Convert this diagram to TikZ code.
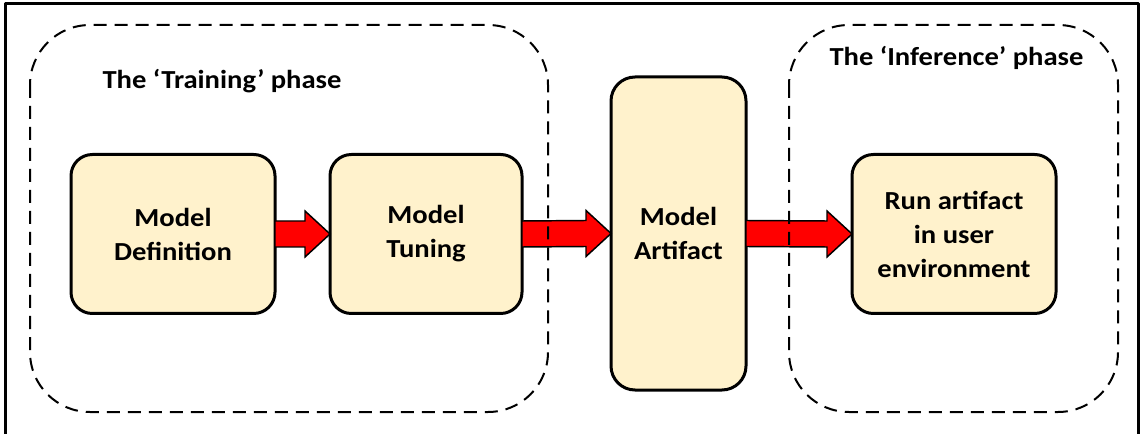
\documentclass[tikz,border=0pt]{standalone}
\usepackage{fontspec}
\setmainfont{Carlito}[FakeStretch=1.1]
\usetikzlibrary{calc}
\definecolor{boxfill}{HTML}{FFF2CC}
\begin{document}
\begin{tikzpicture}[line join=round, line cap=round, x=0.75pt, y=-0.75pt, font=\fontsize{19.5}{25.5}\selectfont\bfseries]
            \tikzset{stage/.style={draw, line width=2.25pt, fill=boxfill, rounded corners=16pt, align=center, outer sep=0pt, inner sep=0pt},
                     phase/.style={dash pattern=on 9.75pt off 6pt, line width=1.5pt, rounded corners=45pt, line cap=butt},
                     bigarrow/.style={draw, fill=red, line width=1.1pt, line join=miter}}
            \useasboundingbox (0,0) rectangle (1141,434);
            \draw[line width=2.25pt, line cap=butt] (5.5,434) -- (5.5,4) -- (1138.5,4) -- (1138.5,434);
            \node[stage, minimum width=153pt, minimum height=119.25pt] (def) at (173,234) {Model\\Definition};
            \node[stage, minimum width=144pt, minimum height=119.25pt] (tune) at (426,234) {Model\\Tuning};
            \node[stage, minimum width=101.25pt, minimum height=234.75pt, rounded corners=18pt] (art) at (678.5,233.5) {Model\\Artifact};
            \node[stage, minimum width=153pt, minimum height=119.25pt] (run) at (954,234) {Run artifact\\in user\\environment};
            \foreach \a/\b in {def/tune,tune/art,art/run}
                \draw[bigarrow] ($(\a.east)+(0,-13)$) -- ($(\b.west)+(-25,-13)$) -- ($(\b.west)+(-25,-23)$) -- (\b.west)
                    -- ($(\b.west)+(-25,23)$) -- ($(\b.west)+(-25,13)$) -- ($(\a.east)+(0,13)$) -- cycle;
            \draw[phase] (30,25) rectangle (548,412);
            \draw[phase] (789,25) rectangle (1118,412);
            \node[anchor=base] (train) at (222,89) {The ‘Training’ phase};
            \node[anchor=base] (infer) at (956.5,66) {The ‘Inference’ phase};
        \end{tikzpicture}
\end{document}
